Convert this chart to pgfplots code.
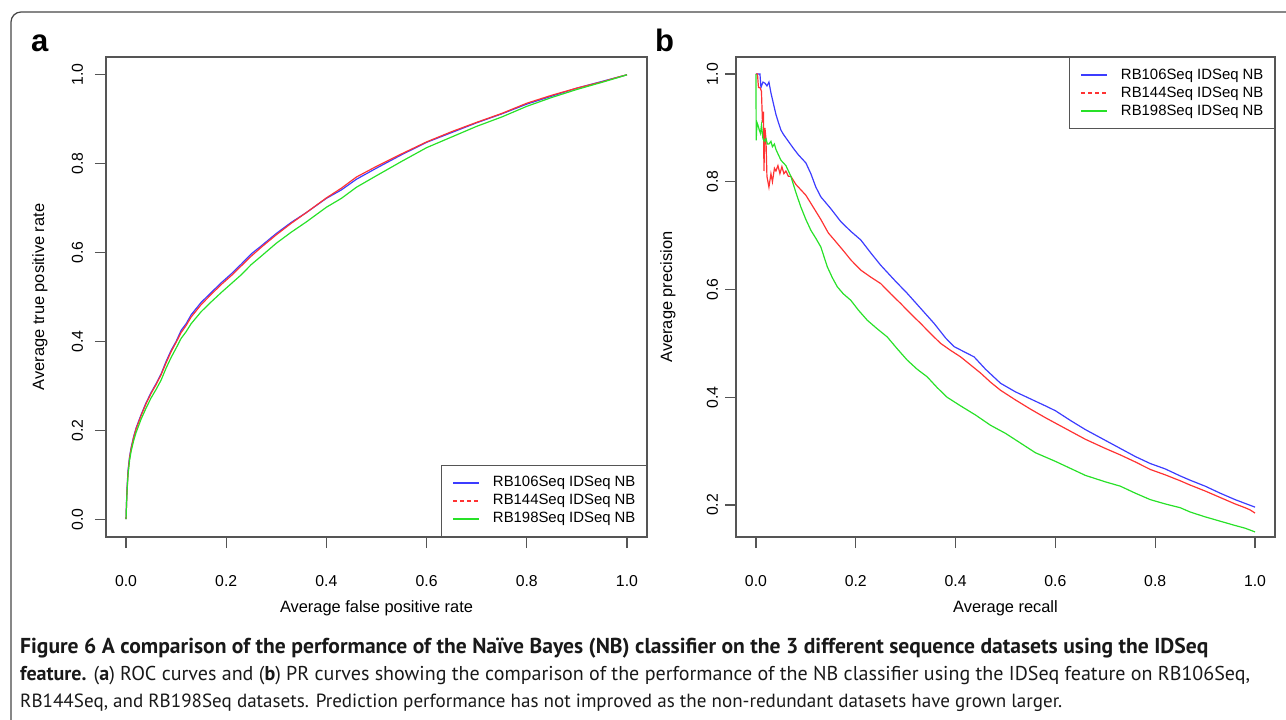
\documentclass[border=0pt]{standalone}
\usepackage{graphicx}
\usepackage{pgfplots}
\pgfplotsset{compat=1.18}
\usepackage{fontspec}
\setmainfont{Liberation Sans}
\newfontfamily\capfont{PT Sans}

\definecolor{rblue}{RGB}{60,60,255}
\definecolor{rred}{RGB}{255,50,50}
\definecolor{rgreen}{RGB}{40,225,40}
\definecolor{framec}{RGB}{85,85,85}
\definecolor{boxc}{RGB}{70,70,70}

\pgfplotsset{
  rstyle/.style={
    scale only axis, height=480pt,
    axis line style={draw=framec, line width=1.1pt},
    tick style={draw=framec, line width=1.1pt},
    tick align=outside, major tick length=11pt,
    xtick pos=left, ytick pos=left,
    xmin=-0.04, xmax=1.04,
    xtick={0,0.2,0.4,0.6,0.8,1},
    /pgf/number format/.cd, fixed, fixed zerofill, precision=1, assume math mode=true,
    /pgfplots/.cd,
    ticklabel style={font=\fontsize{15.8}{18}\selectfont},
    xticklabel style={anchor=north, inner sep=0pt, text height=11.3pt, text depth=0pt, yshift=-26.5pt},
    yticklabel style={rotate=90, anchor=south, inner xsep=0pt, inner ysep=12pt, text height=11.3pt, text depth=0pt},
    label style={font=\fontsize{16.4}{19}\selectfont},
    legend image code/.code={\draw (0pt,0pt) -- (26pt,0pt);},
    legend cell align=left,
    legend style={draw=framec, line width=1.1pt, fill=white,
      font=\fontsize{14.9}{17}\selectfont,
      inner xsep=11pt, inner ysep=10.5pt,
      nodes={inner sep=0pt, text height=11pt, text depth=3pt},
      row sep=4pt,
      /tikz/every odd column/.append style={column sep=13pt}},
    every axis plot/.append style={line width=1.2pt},
  }
}

\begin{document}
\begin{tikzpicture}[x=1pt,y=1pt]
\useasboundingbox (0,0) rectangle (1286,-720);
\begin{scope}
\clip (0,0) rectangle (1286,-720);
\draw[boxc, line width=1.2pt, rounded corners=10pt] (11,-12) rectangle (1320,-760);
\end{scope}

\node[anchor=base west, font=\fontsize{31}{34}\selectfont\bfseries, inner sep=0pt] at (31,-51) {a};
\node[anchor=base west, font=\fontsize{31}{34}\selectfont\bfseries, inner sep=0pt] at (655,-51) {b};

% Panel a: ROC
\begin{axis}[rstyle, at={(106pt,-537pt)}, anchor=south west, width=541pt,
  ymin=-0.04, ymax=1.04, ytick={0,0.2,0.4,0.6,0.8,1},
  xlabel={Average false positive rate}, ylabel={Average true positive rate},
  xlabel style={at={([yshift=-71pt]axis description cs:0.5,0)}, anchor=center},
  ylabel style={at={([xshift=-66pt]axis description cs:0,0.5)}, anchor=center},
  legend style={at={(1,0)}, anchor=south east}]
\addplot[rblue, forget plot] coordinates {
(0,0) (0.001,0.04) (0.002,0.07) (0.004,0.11) (0.007,0.14) (0.01,0.16) (0.015,0.185) (0.02,0.205)
(0.03,0.235) (0.04,0.262) (0.05,0.285) (0.06,0.305) (0.07,0.327) (0.08,0.355) (0.09,0.38) (0.10,0.40)
(0.11,0.425) (0.12,0.44) (0.13,0.46) (0.15,0.488) (0.17,0.51) (0.19,0.532) (0.21,0.552) (0.23,0.574)
(0.25,0.597) (0.27,0.615) (0.30,0.643) (0.33,0.668) (0.36,0.69) (0.40,0.722) (0.43,0.741) (0.46,0.765)
(0.50,0.79) (0.55,0.82) (0.60,0.848) (0.65,0.87) (0.70,0.892) (0.75,0.912) (0.80,0.934) (0.85,0.952)
(0.90,0.97) (0.95,0.985) (0.98,0.994) (1.0,1.0)};
\addplot[rred, forget plot] coordinates {
(0,0) (0.001,0.035) (0.002,0.065) (0.004,0.105) (0.007,0.138) (0.01,0.158) (0.015,0.183) (0.02,0.203)
(0.03,0.233) (0.04,0.26) (0.05,0.283) (0.06,0.303) (0.07,0.325) (0.08,0.352) (0.09,0.377) (0.10,0.398)
(0.11,0.42) (0.12,0.436) (0.13,0.455) (0.15,0.483) (0.17,0.506) (0.19,0.528) (0.21,0.548) (0.23,0.57)
(0.25,0.592) (0.27,0.612) (0.30,0.64) (0.33,0.666) (0.36,0.69) (0.40,0.723) (0.43,0.745) (0.46,0.77)
(0.50,0.794) (0.55,0.822) (0.60,0.849) (0.65,0.872) (0.70,0.893) (0.75,0.913) (0.80,0.936) (0.85,0.954)
(0.90,0.97) (0.95,0.984) (0.98,0.994) (1.0,1.0)};
\addplot[rgreen, forget plot] coordinates {
(0,0) (0.001,0.035) (0.002,0.062) (0.004,0.1) (0.007,0.132) (0.01,0.152) (0.015,0.176) (0.02,0.195)
(0.03,0.225) (0.04,0.25) (0.05,0.273) (0.06,0.292) (0.07,0.313) (0.08,0.34) (0.09,0.364) (0.10,0.385)
(0.11,0.407) (0.12,0.422) (0.13,0.44) (0.15,0.467) (0.17,0.489) (0.19,0.51) (0.21,0.53) (0.23,0.55)
(0.25,0.573) (0.27,0.592) (0.30,0.621) (0.33,0.646) (0.36,0.669) (0.40,0.702) (0.43,0.722) (0.46,0.747)
(0.50,0.773) (0.55,0.805) (0.60,0.836) (0.65,0.86) (0.70,0.884) (0.75,0.905) (0.80,0.929) (0.85,0.949)
(0.90,0.967) (0.95,0.983) (0.98,0.993) (1.0,1.0)};
\addlegendimage{draw=rblue, line width=1.2pt}
\addlegendentry{RB106Seq IDSeq NB}
\addlegendimage{draw=rred, line width=1.2pt, dash pattern=on 4pt off 3pt}
\addlegendentry{RB144Seq IDSeq NB}
\addlegendimage{draw=rgreen, line width=1.2pt}
\addlegendentry{RB198Seq IDSeq NB}
\end{axis}

% Panel b: PR
\begin{axis}[rstyle, at={(736pt,-537pt)}, anchor=south west, width=539pt,
  ymin=0.1406, ymax=1.0316, ytick={0.2,0.4,0.6,0.8,1},
  xlabel={Average recall}, ylabel={Average precision},
  xlabel style={at={([yshift=-71pt]axis description cs:0.5,0)}, anchor=center},
  ylabel style={at={([xshift=-68pt]axis description cs:0,0.5)}, anchor=center},
  yticklabel style={inner ysep=7pt},
  legend style={at={(1,1)}, anchor=north east}]
\addplot[rblue, forget plot] coordinates {
(0,1.0) (0.003,1.0) (0.008,1.0) (0.010,0.975) (0.014,0.985) (0.018,0.983) (0.022,0.978) (0.026,0.985)
(0.03,0.965) (0.035,0.945) (0.04,0.925) (0.045,0.91) (0.05,0.896) (0.055,0.888) (0.065,0.875) (0.075,0.862)
(0.085,0.85) (0.10,0.835) (0.11,0.815) (0.12,0.79) (0.13,0.772) (0.15,0.75) (0.17,0.726) (0.19,0.708)
(0.21,0.692) (0.23,0.668) (0.25,0.645) (0.28,0.615) (0.303,0.593) (0.33,0.565) (0.357,0.537) (0.38,0.51)
(0.397,0.494) (0.42,0.483) (0.437,0.475) (0.46,0.452) (0.49,0.426) (0.52,0.41) (0.55,0.397) (0.58,0.384)
(0.60,0.375) (0.63,0.357) (0.66,0.34) (0.70,0.32) (0.73,0.305) (0.76,0.29) (0.79,0.277) (0.82,0.267)
(0.85,0.254) (0.87,0.246) (0.90,0.235) (0.93,0.222) (0.96,0.21) (0.98,0.203) (1.0,0.196)};
\addplot[rred, forget plot] coordinates {
(0,1.0) (0.003,1.0) (0.005,0.975) (0.008,0.975) (0.011,0.968) (0.013,0.91) (0.015,0.93) (0.016,0.82)
(0.018,0.90) (0.020,0.88) (0.022,0.81) (0.026,0.79) (0.030,0.815) (0.033,0.80) (0.037,0.825) (0.040,0.82)
(0.044,0.83) (0.048,0.815) (0.052,0.828) (0.056,0.815) (0.06,0.82) (0.065,0.81) (0.07,0.81) (0.08,0.795)
(0.09,0.785) (0.10,0.775) (0.11,0.76) (0.12,0.745) (0.13,0.73) (0.145,0.705) (0.157,0.692) (0.177,0.67)
(0.19,0.655) (0.21,0.636) (0.23,0.623) (0.25,0.611) (0.27,0.592) (0.29,0.574) (0.31,0.555) (0.33,0.537)
(0.35,0.518) (0.37,0.50) (0.39,0.487) (0.41,0.475) (0.43,0.46) (0.45,0.445) (0.47,0.428) (0.49,0.413)
(0.52,0.395) (0.55,0.378) (0.58,0.362) (0.60,0.352) (0.63,0.337) (0.66,0.322) (0.70,0.305) (0.73,0.293)
(0.76,0.28) (0.79,0.266) (0.82,0.256) (0.85,0.245) (0.87,0.237) (0.90,0.226) (0.93,0.214) (0.96,0.202)
(0.98,0.195) (0.99,0.191) (1.0,0.185)};
\addplot[rgreen, forget plot] coordinates {
(0,1.0) (0.0005,0.877) (0.002,0.91) (0.004,0.905) (0.007,0.895) (0.009,0.89) (0.011,0.905) (0.014,0.88)
(0.017,0.875) (0.02,0.88) (0.023,0.87) (0.026,0.87) (0.03,0.875) (0.033,0.865) (0.037,0.87) (0.04,0.86)
(0.045,0.85) (0.05,0.84) (0.055,0.835) (0.06,0.83) (0.065,0.82) (0.07,0.81) (0.08,0.78) (0.09,0.753)
(0.10,0.73) (0.11,0.71) (0.12,0.695) (0.13,0.679) (0.143,0.642) (0.153,0.622) (0.163,0.605) (0.175,0.592)
(0.19,0.58) (0.205,0.562) (0.223,0.543) (0.243,0.527) (0.263,0.512) (0.283,0.49) (0.303,0.469) (0.323,0.452)
(0.343,0.438) (0.363,0.418) (0.383,0.40) (0.41,0.384) (0.44,0.367) (0.47,0.348) (0.50,0.333) (0.53,0.315)
(0.56,0.297) (0.60,0.281) (0.63,0.268) (0.66,0.255) (0.70,0.243) (0.73,0.235) (0.76,0.222) (0.79,0.21)
(0.82,0.202) (0.85,0.195) (0.87,0.187) (0.90,0.178) (0.93,0.17) (0.96,0.162) (0.98,0.157) (1.0,0.150)};
\addlegendimage{draw=rblue, line width=1.2pt}
\addlegendentry{RB106Seq IDSeq NB}
\addlegendimage{draw=rred, line width=1.2pt, dash pattern=on 4pt off 3pt}
\addlegendentry{RB144Seq IDSeq NB}
\addlegendimage{draw=rgreen, line width=1.2pt}
\addlegendentry{RB198Seq IDSeq NB}
\end{axis}

% Caption
\node[anchor=base west, inner sep=0pt, text=black!90] at (20,-653)
  {\resizebox{1188pt}{!}{\capfont\fontsize{18.5}{22}\selectfont\bfseries Figure 6 A comparison of the performance of the Naïve Bayes (NB) classifier on the 3 different sequence datasets using the IDSeq}};
\node[anchor=base west, inner sep=0pt, text=black!90] at (20,-680)
  {\resizebox{1230pt}{!}{\capfont\fontsize{18.5}{22}\selectfont\textbf{feature.} (\textbf{a}) ROC curves and (\textbf{b}) PR curves showing the comparison of the performance of the NB classifier using the IDSeq feature on RB106Seq,}};
\node[anchor=base west, inner sep=0pt, text=black!90] at (20,-707)
  {\resizebox{1042pt}{!}{\capfont\fontsize{18.5}{22}\selectfont RB144Seq, and RB198Seq datasets. Prediction performance has not improved as the non-redundant datasets have grown larger.}};
\end{tikzpicture}
\end{document}
